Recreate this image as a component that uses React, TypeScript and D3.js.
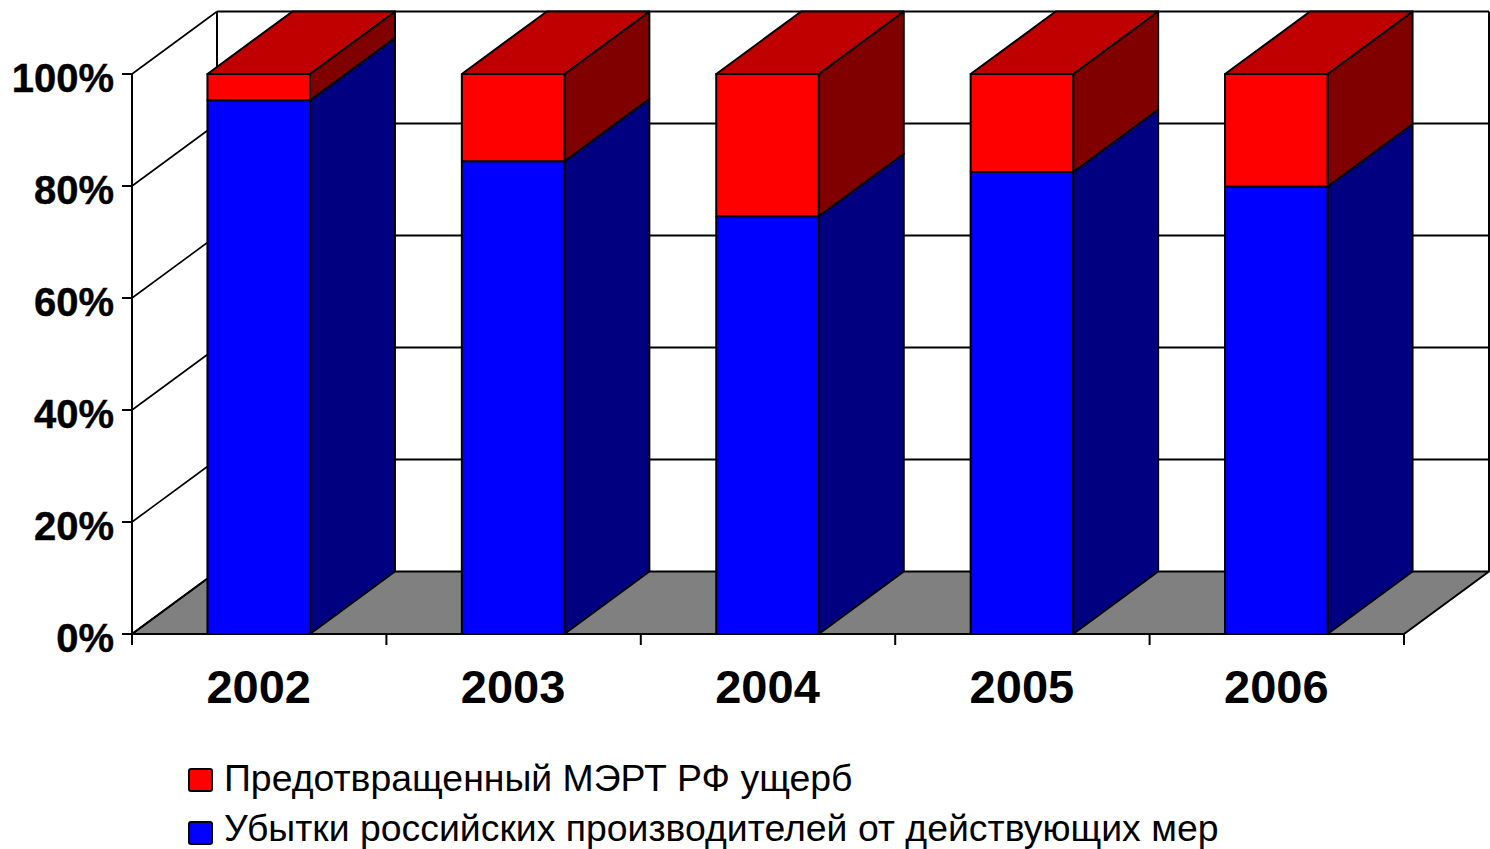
import React from "react";
import * as d3 from "d3";

const years = ["2002", "2003", "2004", "2005", "2006"];
const blueValues = [95.3, 84.4, 74.6, 82.5, 79.9];
const yTicks = [0, 20, 40, 60, 80, 100];
const seriesNames = ["Предотвращенный МЭРТ РФ ущерб", "Убытки российских производителей от действующих мер"];
const seriesColors = ["#ff0000", "#0000ff"];

const W = 1490, H = 849;
const DX = 85, DY = -62.5;
const y = d3.scaleLinear().domain([0, 100]).range([634, 74]);
const x = d3.scaleBand().domain(years).range([131.5, 1403.5]).paddingInner(0.597).paddingOuter(0.2985);
const font = "'Liberation Sans', Arial, sans-serif";

function poly(pts: [number, number][], fill: string) {
  return <polygon points={pts.map(p => p.join(",")).join(" ")} fill={fill} stroke="#000" strokeWidth={2} strokeLinejoin="round" />;
}

function Segment({ x0, x1, yb, yt, front, side, top }: any) {
  return (
    <g>
      {poly([[x1, yb], [x1 + DX, yb + DY], [x1 + DX, yt + DY], [x1, yt]], side)}
      {poly([[x0, yb], [x1, yb], [x1, yt], [x0, yt]], front)}
      {top && poly([[x0, yt], [x1, yt], [x1 + DX, yt + DY], [x0 + DX, yt + DY]], top)}
    </g>
  );
}

export default function App() {
  const left = 132, right = 1404;
  const y0 = y(0), y100 = y(100);
  return (
    <svg width={W} height={H} viewBox={`0 0 ${W} ${H}`} style={{ position: "absolute", left: 0, top: 0, background: "#fff" }}>
      {/* floor */}
      {poly([[left, y0], [right, y0], [right + DX, y0 + DY], [left + DX, y0 + DY]], "#808080")}
      {/* back wall */}
      <line x1={left + DX} x2={left + DX} y1={y100 + DY} y2={y0 + DY} stroke="#000" strokeWidth={2} />
      <line x1={right + DX} x2={right + DX} y1={y100 + DY} y2={y0 + DY} stroke="#000" strokeWidth={2} />
      {yTicks.map(t => (
        <g key={t}>
          {t > 0 && <line x1={left + DX} x2={right + DX} y1={y(t) + DY} y2={y(t) + DY} stroke="#000" strokeWidth={2} />}
          <line x1={left} x2={left + DX} y1={y(t)} y2={y(t) + DY} stroke="#000" strokeWidth={1.6} />
          <line x1={left - 10} x2={left} y1={y(t)} y2={y(t)} stroke="#000" strokeWidth={2} />
          <text x={114} y={y(t) + 18} textAnchor="end" fontFamily={font} fontWeight="bold" fontSize={40} fill="#000" stroke="#000" strokeWidth={0.4}>{t}%</text>
        </g>
      ))}
      <line x1={left} x2={left} y1={y100} y2={y0} stroke="#000" strokeWidth={2} />
      <line x1={left} x2={right} y1={y0} y2={y0} stroke="#000" strokeWidth={2} />
      {d3.range(6).map(i => {
        const tx = left + (i * (right - left)) / 5;
        return <line key={i} x1={tx} x2={tx} y1={y0} y2={y0 + 11} stroke="#000" strokeWidth={2} />;
      })}
      {/* bars */}
      {years.map((yr, i) => {
        const x0 = x(yr) as number, x1 = x0 + x.bandwidth();
        return (
          <g key={yr}>
            <Segment x0={x0} x1={x1} yb={y(0)} yt={y(blueValues[i])} front="#0000ff" side="#000080" />
            <Segment x0={x0} x1={x1} yb={y(blueValues[i])} yt={y(100)} front="#ff0000" side="#800000" top="#c00000" />
            <text x={(x0 + x1) / 2} y={703} textAnchor="middle" fontFamily={font} fontWeight="bold" fontSize={47} fill="#000">{yr}</text>
          </g>
        );
      })}
      {/* legend */}
      {seriesNames.map((n, i) => (
        <g key={n}>
          <rect x={189} y={769 + i * 53} width={23} height={22} rx={2} fill={seriesColors[i]} stroke="#000" strokeWidth={2} />
          <text x={224} y={791 + i * 50} fontFamily={font} fontSize={37.4} fill="#000">{n}</text>
        </g>
      ))}
    </svg>
  );
}
